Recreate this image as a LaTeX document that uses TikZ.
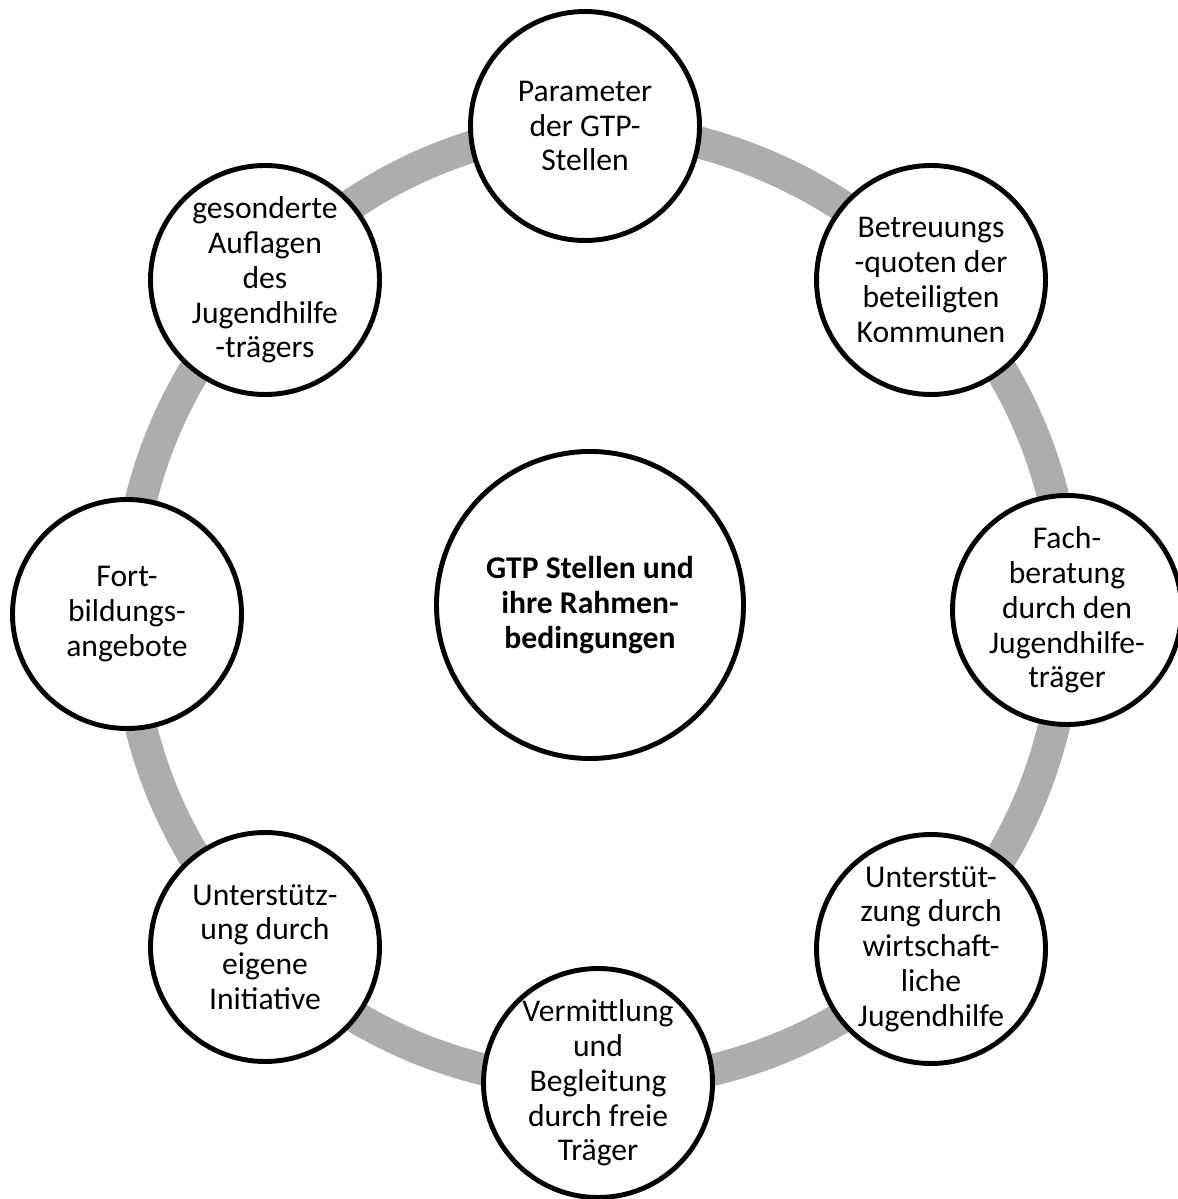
\documentclass[tikz,border=0pt]{standalone}
\usepackage{fontspec}
\setmainfont{Carlito}
\usetikzlibrary{backgrounds}

\definecolor{ringgray}{RGB}{173,173,173}

\tikzset{
	factor/.style={draw, circle, line width=1.4pt, fill=white, minimum size=2.29cm,
		inner sep=0pt, align=center, font=\fontsize{9}{9.9}\selectfont},
	hub/.style={factor, minimum size=3.07cm, font=\fontsize{9}{9.9}\selectfont\bfseries},
	ring/.style={draw=ringgray, line width=0.32cm, bend left=22.5, looseness=0.885}
}

\begin{document}
\begin{tikzpicture}
		
		\useasboundingbox (0,0) rectangle (11.77,-11.99);
		
		%Nodo centrale
		\node (gtp) at (5.90,-6.05) [hub]{GTP Stellen und\\ihre Rahmen-\\bedingungen};
		
		%Nodes sul cerchio
		\node (parameter) at (5.85,-1.26) [factor]{Parameter\\der GTP-\\Stellen};
		\node (betreuung) at (9.31,-2.80) [factor]{Betreuungs\\-quoten der\\beteiligten\\Kommunen};
		\node (fachberatung) at (10.67,-6.10) [factor]{Fach-\\beratung\\durch den\\Jugendhilfe-\\träger};
		\node (wirtschaft) at (9.31,-9.49) [factor]{Unterstüt-\\zung durch\\wirtschaft-\\liche\\Jugendhilfe};
		\node (vermittlung) at (5.98,-10.83) [factor]{Vermittlung\\und\\Begleitung\\durch freie\\Träger};
		\node (initiative) at (2.65,-9.47) [factor]{Unterstütz-\\ung durch\\eigene\\Initiative};
		\node (fortbildung) at (1.27,-6.14) [factor]{Fort-\\bildungs-\\angebote};
		\node (auflagen) at (2.65,-2.80) [factor]{gesonderte\\Auflagen\\des\\Jugendhilfe\\-trägers};
		
		%Links (anello grigio)
		\begin{scope}[on background layer]
		\draw[ring] (parameter.center) to (betreuung.center);
		\draw[ring] (betreuung.center) to (fachberatung.center);
		\draw[ring] (fachberatung.center) to (wirtschaft.center);
		\draw[ring] (wirtschaft.center) to (vermittlung.center);
		\draw[ring] (vermittlung.center) to (initiative.center);
		\draw[ring] (initiative.center) to (fortbildung.center);
		\draw[ring] (fortbildung.center) to (auflagen.center);
		\draw[ring] (auflagen.center) to (parameter.center);
		\end{scope}
		
\end{tikzpicture}
\end{document}
